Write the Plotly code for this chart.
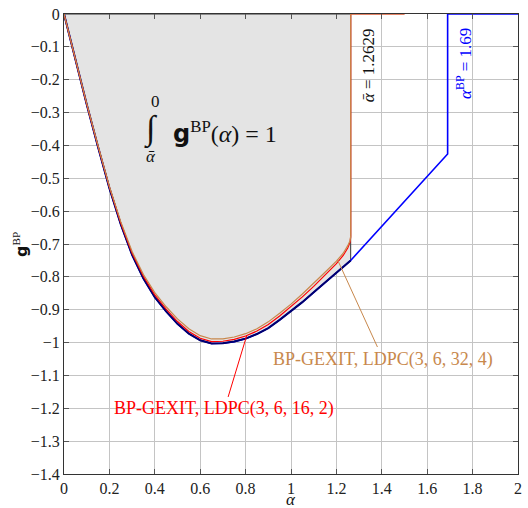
import numpy as np
import plotly.graph_objects as go

# BP-GEXIT curve of the (3,6) ensemble, continued up to the BP threshold
alpha_ens = [0, 0.05, 0.1, 0.15, 0.2, 0.25, 0.3, 0.35, 0.4, 0.45, 0.5, 0.55, 0.6,
             0.65, 0.7, 0.75, 0.8, 0.85, 0.9, 0.95, 1.0, 1.05, 1.1, 1.15, 1.2, 1.2629]
g_ens = [0, -0.14, -0.275, -0.405, -0.53, -0.64, -0.733, -0.805, -0.862, -0.905,
         -0.943, -0.973, -0.993, -1.003, -1.002, -0.997, -0.988, -0.974, -0.956,
         -0.931, -0.905, -0.877, -0.847, -0.817, -0.787, -0.75]
alpha_bp_branch = [1.69, 1.69, 2.0]
g_bp_branch = [-0.426, 0.0, 0.0]

# finite-length coupled LDPC curves
alpha_fin = [0, 0.05, 0.1, 0.15, 0.2, 0.25, 0.3, 0.35, 0.4, 0.45, 0.5, 0.55, 0.6,
             0.65, 0.7, 0.75, 0.8, 0.85, 0.9, 0.95, 1.0, 1.05, 1.1, 1.15, 1.2,
             1.23, 1.25, 1.26, 1.2629, 1.2629, 1.5]
g_16_2 = [0, -0.14, -0.274, -0.403, -0.527, -0.636, -0.728, -0.799, -0.855, -0.898,
          -0.936, -0.966, -0.987, -0.997, -0.996, -0.99, -0.98, -0.965, -0.945,
          -0.919, -0.891, -0.861, -0.829, -0.795, -0.76, -0.735, -0.712, -0.695,
          -0.68, 0.0, 0.0]
g_32_4 = [0, -0.14, -0.273, -0.401, -0.525, -0.632, -0.723, -0.793, -0.848, -0.891,
          -0.928, -0.958, -0.979, -0.989, -0.989, -0.983, -0.973, -0.958, -0.937,
          -0.911, -0.883, -0.852, -0.82, -0.786, -0.752, -0.728, -0.705, -0.69,
          -0.676, 0.0, 0.0]

alpha_bar = 1.2629
alpha_bp = 1.69

x_ticks = [0, 0.2, 0.4, 0.6, 0.8, 1.0, 1.2, 1.4, 1.6, 1.8, 2.0]
x_ticklabels = ["0", "0.2", "0.4", "0.6", "0.8", "1", "1.2", "1.4", "1.6", "1.8", "2"]
y_ticks = [0, -0.1, -0.2, -0.3, -0.4, -0.5, -0.6, -0.7, -0.8, -0.9, -1.0,
           -1.1, -1.2, -1.3, -1.4]
y_ticklabels = ["0", "−0.1", "−0.2", "−0.3", "−0.4", "−0.5", "−0.6", "−0.7",
                "−0.8", "−0.9", "−1", "−1.1", "−1.2", "−1.3", "−1.4"]

SERIF = "Liberation Serif, DejaVu Serif, serif"
NAVY = "#00006e"
BLUE = "#0000ff"
RED = "#ff0000"
BROWN = "#c8884c"

fig = go.Figure()

# shaded area under the ensemble curve up to alpha_bar
fig.add_trace(go.Scatter(
    x=alpha_ens + [alpha_bar, 0], y=g_ens + [0, 0],
    mode="lines", fill="toself", fillcolor="#e4e4e4",
    line=dict(color="#333333", width=1), hoverinfo="skip"))

fig.add_trace(go.Scatter(
    x=alpha_ens + alpha_bp_branch, y=g_ens + g_bp_branch,
    mode="lines", line=dict(color=BLUE, width=1.6)))
fig.add_trace(go.Scatter(
    x=alpha_ens, y=g_ens, mode="lines", line=dict(color=NAVY, width=2)))
fig.add_trace(go.Scatter(
    x=alpha_fin, y=g_16_2, mode="lines", line=dict(color=RED, width=1.2)))
fig.add_trace(go.Scatter(
    x=alpha_fin, y=g_32_4, mode="lines", line=dict(color=BROWN, width=1.2)))

axis_common = dict(
    showgrid=True, gridcolor="#c4c4c4", gridwidth=1,
    showline=True, linecolor="#333333", linewidth=1, mirror="ticks",
    ticks="inside", ticklen=5, tickcolor="#555555",
    tickfont=dict(family=SERIF, size=16, color="#222222"),
    zeroline=False, tickmode="array",
)

fig.update_xaxes(range=[0, 2], tickvals=x_ticks, ticktext=x_ticklabels, **axis_common)
fig.update_yaxes(range=[-1.4, 0], tickvals=y_ticks, ticktext=y_ticklabels, **axis_common)

n_fin = len(alpha_fin) - 2
head_32 = 1.205
head_16 = 0.805
annotations = [
    # integral expression
    dict(x=0.385, y=-0.35, text="∫", font=dict(family=SERIF, size=34, color="#111111"),
         showarrow=False, xanchor="center", yanchor="middle"),
    dict(x=0.404, y=-0.265, text="0", font=dict(family=SERIF, size=17, color="#111111"),
         showarrow=False, xanchor="center", yanchor="middle"),
    dict(x=0.385, y=-0.435, text="<i>ᾱ</i>", font=dict(family=SERIF, size=17, color="#111111"),
         showarrow=False, xanchor="center", yanchor="middle"),
    dict(x=0.47, y=-0.36,
         text="<span style='font-family:DejaVu Sans'><b>g</b></span><sup>BP</sup>(<i>α</i>) = 1",
         font=dict(family=SERIF, size=24, color="#111111"),
         showarrow=False, xanchor="left", yanchor="middle"),
    # threshold labels
    dict(x=1.345, y=-0.155, text="<i>ᾱ</i> = 1.2629", textangle=-90,
         font=dict(family=SERIF, size=17, color="#111111"),
         showarrow=False, xanchor="center", yanchor="middle"),
    dict(x=1.765, y=-0.15, text="<i>α</i><sup>BP</sup> = 1.69", textangle=-90,
         font=dict(family=SERIF, size=17, color=BLUE),
         showarrow=False, xanchor="center", yanchor="middle"),
    # curve labels
    dict(x=head_32, y=float(np.interp(head_32, alpha_fin[:n_fin], g_32_4[:n_fin])),
         ax=1.405, ay=-1.05, axref="x", ayref="y",
         text="BP-GEXIT, LDPC(3, 6, 32, 4)",
         font=dict(family=SERIF, size=18, color=BROWN),
         showarrow=True, arrowhead=0, arrowwidth=1, arrowcolor=BROWN, standoff=0),
    dict(x=head_16, y=float(np.interp(head_16, alpha_fin[:n_fin], g_16_2[:n_fin])),
         ax=0.707, ay=-1.202, axref="x", ayref="y",
         text="BP-GEXIT, LDPC(3, 6, 16, 2)",
         font=dict(family=SERIF, size=18, color=RED),
         showarrow=True, arrowhead=0, arrowwidth=1, arrowcolor=RED, standoff=0),
    # axis titles
    dict(xref="paper", yref="paper", x=0.5, y=-0.056, text="<i>α</i>",
         font=dict(family=SERIF, size=17, color="#111111"),
         showarrow=False, xanchor="center", yanchor="middle", borderpad=0),
    dict(xref="paper", yref="paper", x=-0.097, y=0.5,
         text="<span style='font-family:DejaVu Sans'><b>g</b></span><sup>BP</sup>",
         textangle=-90, font=dict(family=SERIF, size=16, color="#111111"),
         showarrow=False, xanchor="center", yanchor="middle"),
]

fig.update_layout(
    width=528, height=508, autosize=False,
    margin=dict(l=64, r=6, t=14, b=34),
    plot_bgcolor="white", paper_bgcolor="white",
    showlegend=False,
    annotations=annotations,
)

fig.write_html("out.html")
